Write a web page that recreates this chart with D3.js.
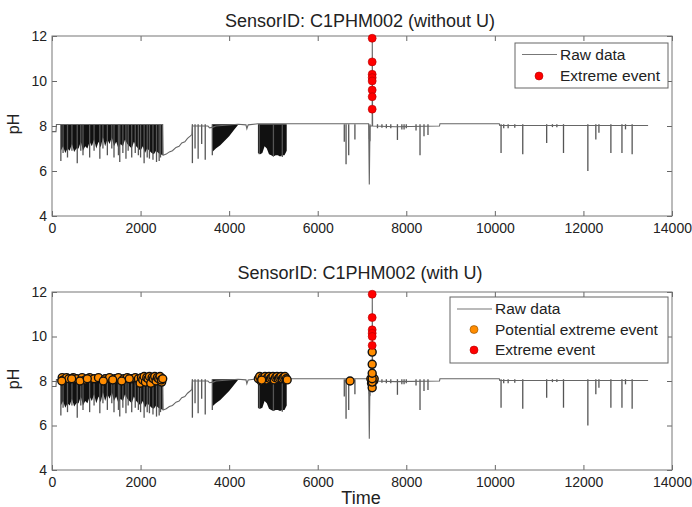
<!DOCTYPE html>
<html>
<head>
<meta charset="utf-8">
<script src="https://cdn.jsdelivr.net/npm/d3@7"></script>
<style>
  body { margin: 0; background: #fff; }
  svg text { font-family: "Liberation Sans", Arial, sans-serif; fill: #222; }
</style>
</head>
<body>
<div id="chart"></div>
<script>
// ---- data ----
const xTicks = [0, 2000, 4000, 6000, 8000, 10000, 12000, 14000];
const yTicks = [4, 6, 8, 10, 12];

// slow part of the raw signal (the line between the bursts)
const traceTime = [0, 90, 100, 2500, 2510, 2580, 2650, 2720, 2800, 2870, 2930, 3000, 3060, 3120, 3160, 3170,
  3520, 3560, 3640, 3700, 4200, 4380, 4400, 4430, 4650, 7150, 7165, 7180, 7230, 7232, 7240, 7760, 8750, 8760,
  10100, 10110, 13460];
const tracePH = [7.75, 7.75, 8.07, 8.07, 6.7, 6.75, 6.85, 6.9, 7.05, 7.1, 7.25, 7.3, 7.45, 7.55, 7.62, 8.0,
  8.0, 7.92, 7.95, 8.0, 8.08, 8.05, 7.88, 8.05, 8.1, 8.1, 5.4, 8.0, 8.0, 11.9, 8.0, 7.97, 8.0, 8.1,
  8.1, 8.02, 8.02];

// dense bursts: lower edge of the solid black part (top is the baseline)
const bandTop = 8.08;
const burstATime = [200, 250, 300, 350, 400, 450, 500, 550, 600, 650, 700, 750, 800, 850, 900, 950, 1000, 1050,
  1100, 1150, 1200, 1250, 1300, 1350, 1400, 1450, 1500, 1550, 1600, 1650, 1700, 1750, 1800, 1850, 1900, 1950,
  2000, 2050, 2100, 2150, 2200, 2250, 2300, 2350, 2400, 2450, 2500];
const burstALow = [6.9, 7.1, 6.8, 7.0, 6.9, 7.2, 6.85, 7.0, 7.0, 7.3, 6.9, 7.1, 7.0, 7.3, 7.1, 7.4, 7.0, 7.3,
  7.05, 7.5, 7.1, 7.4, 7.2, 7.5, 7.1, 7.3, 7.0, 7.2, 7.1, 7.4, 7.2, 7.1, 7.0, 7.3, 7.1, 7.0,
  6.9, 7.1, 6.8, 7.0, 6.9, 6.8, 6.75, 6.9, 6.8, 6.75, 6.7];
const burstBTime = [3620, 3700, 3800, 3900, 4000, 4100, 4200];
const burstBLow = [6.85, 7.0, 7.15, 7.35, 7.55, 7.8, 8.05];
const burstCTime = [4650, 4700, 4750, 4800, 4850, 4900, 4950, 5000, 5050, 5100, 5150, 5200, 5250, 5300];
const burstCLow = [6.8, 6.75, 6.8, 7.1, 7.0, 6.75, 6.7, 6.65, 6.7, 6.7, 6.65, 6.7, 6.7, 6.9];
const burstDTime = [7150, 7200];
const burstDLow = [7.45, 7.3];

// single downward spikes from the baseline
const spikeTime = [200, 250, 350, 450, 570, 650, 700, 850, 950, 1080, 1150, 1250, 1350, 1400, 1500, 1530, 1600,
  1670, 1720, 1800, 1880, 1950, 2000, 2080, 2150, 2200, 2280, 2360, 2420, 2450,
  3170, 3230, 3300, 3380, 3460, 3620, 4680, 5000, 5200, 6600, 6640, 6700, 6840,
  7350, 7450, 7550, 7650, 7800, 7900, 7950, 8000, 8220, 8310, 8400, 8490,
  10140, 10200, 10300, 10450, 10630, 11170, 11300, 11400, 11550, 12100, 12280, 12350, 12620, 12870, 12950, 13100];
const spikeLow = [6.45, 6.8, 6.6, 6.9, 6.35, 6.9, 6.7, 6.6, 6.9, 6.55, 7.0, 6.7, 7.0, 6.6, 6.7, 6.4, 6.8,
  6.55, 6.9, 6.6, 6.8, 6.7, 6.6, 6.35, 6.6, 6.55, 6.5, 6.4, 6.45, 6.6,
  6.35, 7.0, 6.55, 7.2, 6.5, 6.7, 6.75, 6.65, 6.62, 7.3, 6.3, 6.7, 7.4,
  7.9, 7.92, 7.9, 7.9, 7.38, 7.85, 7.85, 7.9, 7.8, 6.7, 7.55, 7.6,
  6.8, 7.9, 7.9, 7.92, 6.75, 7.25, 7.95, 7.95, 6.8, 6.0, 7.4, 7.7, 6.8, 6.8, 7.85, 6.75];

// events
const extremeTopTime = [7230, 7230, 7230, 7230, 7230, 7230, 7230, 7230];
const extremeTopPH = [11.9, 10.85, 10.3, 10.15, 10.0, 9.6, 9.3, 8.75];
const extremeBotTime = [7230, 7230, 7230, 7230, 7230, 7230];
const extremeBotPH = [11.9, 10.85, 10.3, 10.15, 10.0, 9.6];
// potential events, in drawing order (the packed ones come first and end up mostly hidden)
const potentialTime = [230, 260, 330, 380, 480, 560, 680, 750, 850, 950, 1050, 1200, 1300, 1420, 1500, 1620, 1700,
  1800, 1880, 1950, 2061, 1990, 2020, 2050, 2080, 2110, 2140, 2170, 2200, 2287, 2230, 2260, 2290, 2320, 2350,
  2380, 2410, 2440, 2477, 2470, 2500,
  4660, 4690, 4720, 4750, 4780, 4810, 4840, 4870, 4900, 4930, 4960, 4990, 5020, 5050, 5080, 5110, 5140,
  5170, 5200, 5230, 5260, 5290, 5310, 4735,
  7200, 7215, 7245, 7260, 7275, 7230,
  220, 445, 632, 797, 1158, 1371, 1574, 1745, 6730,
  7230, 7230, 7230, 7230, 7230];
const potentialPH = [8.15, 8.05, 8.15, 8.1, 8.15, 8.1, 8.15, 8.05, 8.15, 8.1, 8.15, 8.1, 8.15, 8.1, 8.15, 8.1, 8.15,
  8.1, 8.15, 8.1, 8.0, 7.9, 8.15, 8.05, 8.2, 7.95, 8.15, 8.1, 8.2, 8.05, 7.9, 8.15, 8.1, 8.2, 8.0,
  8.15, 8.1, 8.2, 7.95, 8.05, 8.1,
  8.1, 8.2, 8.0, 8.15, 8.1, 8.2, 8.05, 8.15, 8.2, 8.1, 8.15, 8.2, 8.05, 8.15, 8.2, 8.1, 8.15,
  8.2, 8.1, 8.15, 8.2, 8.1, 8.05, 8.04,
  8.1, 7.9, 8.15, 8.0, 8.1, 7.7,
  8.0, 8.1, 8.0, 8.1, 8.0, 8.05, 8.0, 8.1, 8.0,
  7.95, 8.1, 8.35, 8.75, 9.3];

const zip = (a, b) => a.map((d, i) => [d, b[i]]);

// ---- drawing ----
const svg = d3.select("#chart").append("svg")
  .attr("width", 692).attr("height", 507)
  .style("background", "#fff");

class PhPanel {
  constructor(_config) {
    this.config = _config;
    this.initVis();
  }

  initVis() {
    const vis = this;
    const c = vis.config;
    vis.width = c.right - c.left;
    vis.height = c.bottom - c.top;

    vis.g = svg.append("g").attr("transform", `translate(${c.left},${c.top})`);
    vis.xScale = d3.scaleLinear().domain([0, 14000]).range([0, vis.width]);
    vis.yScale = d3.scaleLinear().domain([4, 12]).range([vis.height, 0]);

    vis.renderAxes();
    vis.renderRaw();
    vis.renderEvents();
    vis.renderLabels();
    vis.renderLegend();
  }

  renderAxes() {
    const vis = this;
    const styleAxis = (sel, withText) => {
      sel.select(".domain").remove();
      sel.selectAll(".tick line").attr("stroke", "#666");
      sel.selectAll(".tick text").style("font-size", "14px").attr("fill", "#222");
      if (!withText) sel.selectAll(".tick text").remove();
    };
    vis.g.append("g").attr("transform", `translate(0,${vis.height})`)
      .call(d3.axisBottom(vis.xScale).tickValues(xTicks).tickFormat(d3.format("d")).tickSize(-5).tickPadding(7))
      .call(s => styleAxis(s, true));
    vis.g.append("g")
      .call(d3.axisTop(vis.xScale).tickValues(xTicks).tickSize(-5))
      .call(s => styleAxis(s, false));
    vis.g.append("g")
      .call(d3.axisLeft(vis.yScale).tickValues(yTicks).tickSize(-5).tickPadding(5))
      .call(s => styleAxis(s, true));
    vis.g.append("g").attr("transform", `translate(${vis.width},0)`)
      .call(d3.axisRight(vis.yScale).tickValues(yTicks).tickSize(-5))
      .call(s => styleAxis(s, false));

    vis.g.append("rect")
      .attr("width", vis.width).attr("height", vis.height)
      .attr("fill", "none").attr("stroke", "#777").attr("stroke-width", 1);
  }

  renderRaw() {
    const vis = this;
    const x = vis.xScale, y = vis.yScale;

    const area = d3.area().x(d => x(d[0])).y0(d => y(d[1])).y1(y(bandTop));
    [[burstATime, burstALow], [burstBTime, burstBLow], [burstCTime, burstCLow]].forEach(([t, v]) => {
      vis.g.append("path").datum(zip(t, v)).attr("d", area).attr("fill", "#111");
    });
    vis.g.append("path").datum(zip(burstDTime, burstDLow)).attr("d", area).attr("fill", "#999");

    vis.g.selectAll("line.spike")
      .data(zip(spikeTime, spikeLow))
      .join("line")
      .attr("class", "spike")
      .attr("x1", d => x(d[0])).attr("x2", d => x(d[0]))
      .attr("y1", y(bandTop)).attr("y2", d => y(d[1]))
      .attr("stroke", "#555").attr("stroke-width", 1.3);

    vis.g.append("path")
      .datum(zip(traceTime, tracePH))
      .attr("d", d3.line().x(d => x(d[0])).y(d => y(d[1])))
      .attr("fill", "none").attr("stroke", "#666").attr("stroke-width", 1.1);
  }

  renderEvents() {
    const vis = this;
    const x = vis.xScale, y = vis.yScale;
    if (vis.config.potential) {
      vis.g.selectAll("circle.potential")
        .data(zip(potentialTime, potentialPH))
        .join("circle")
        .attr("class", "potential")
        .attr("cx", d => x(d[0])).attr("cy", d => y(d[1])).attr("r", 4)
        .attr("fill", "#ff8c00").attr("stroke", "#111").attr("stroke-width", 1.4);
    }
    vis.g.selectAll("circle.extreme")
      .data(zip(vis.config.extremeTime, vis.config.extremePH))
      .join("circle")
      .attr("class", "extreme")
      .attr("cx", d => x(d[0])).attr("cy", d => y(d[1])).attr("r", 4)
      .attr("fill", "#ff0000").attr("stroke", "#b00000").attr("stroke-width", 0.6);
  }

  renderLabels() {
    const vis = this;
    const c = vis.config;
    svg.append("text")
      .attr("x", 360).attr("y", c.titleY)
      .attr("text-anchor", "middle")
      .style("font-size", "18px")
      .text(c.title);
    svg.append("text")
      .attr("transform", `translate(19,${(c.top + c.bottom) / 2 - 2}) rotate(-90)`)
      .attr("text-anchor", "middle")
      .style("font-size", "16px")
      .text("pH");
    if (c.xLabel) {
      svg.append("text")
        .attr("x", 361).attr("y", 504)
        .attr("text-anchor", "middle")
        .style("font-size", "18px")
        .text(c.xLabel);
    }
  }

  renderLegend() {
    const vis = this;
    const lg = vis.config.legend;
    const g = svg.append("g").attr("transform", `translate(${lg.x},${lg.y})`);
    g.append("rect")
      .attr("width", lg.w).attr("height", lg.h)
      .attr("fill", "#fff").attr("stroke", "#666").attr("stroke-width", 1);
    lg.rows.forEach((r, i) => {
      const ry = lg.firstRow + i * lg.rowStep;
      if (r.type === "line") {
        g.append("line").attr("x1", 7).attr("x2", 42).attr("y1", ry).attr("y2", ry)
          .attr("stroke", "#777").attr("stroke-width", 1.2);
      } else {
        g.append("circle").attr("cx", 24).attr("cy", ry).attr("r", 4)
          .attr("fill", r.color).attr("stroke", r.edge).attr("stroke-width", r.edgeWidth);
      }
      g.append("text").attr("x", 45).attr("y", ry).attr("dy", "0.35em")
        .style("font-size", "15.5px").text(r.label);
    });
  }
}

new PhPanel({
  left: 52, right: 672, top: 36, bottom: 216,
  titleY: 26.5,
  title: "SensorID: C1PHM002 (without U)",
  extremeTime: extremeTopTime, extremePH: extremeTopPH,
  potential: false,
  legend: {
    x: 515, y: 43, w: 153, h: 45, firstRow: 11.5, rowStep: 21.5,
    rows: [
      { type: "line", label: "Raw data" },
      { type: "dot", color: "#ff0000", edge: "#b00000", edgeWidth: 0.6, label: "Extreme event" }
    ]
  }
});

new PhPanel({
  left: 52, right: 672, top: 292, bottom: 470,
  titleY: 279,
  title: "SensorID: C1PHM002 (with U)",
  extremeTime: extremeBotTime, extremePH: extremeBotPH,
  potential: true,
  xLabel: "Time",
  legend: {
    x: 450, y: 297, w: 218, h: 66, firstRow: 12, rowStep: 20.5,
    rows: [
      { type: "line", label: "Raw data" },
      { type: "dot", color: "#ff8c00", edge: "#8a4b00", edgeWidth: 0.6, label: "Potential extreme event" },
      { type: "dot", color: "#ff0000", edge: "#b00000", edgeWidth: 0.6, label: "Extreme event" }
    ]
  }
});
</script>
</body>
</html>
